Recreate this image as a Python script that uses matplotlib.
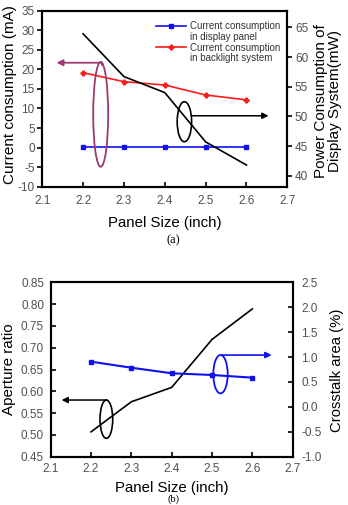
import matplotlib
matplotlib.use("Agg")
import matplotlib.pyplot as plt
from matplotlib.patches import Ellipse
from matplotlib.lines import Line2D
import numpy as np

plt.rcParams['font.family'] = ['Liberation Sans', 'DejaVu Sans']
plt.rcParams['axes.unicode_minus'] = False

# ---------------- data ----------------
panel_size = [2.2, 2.3, 2.4, 2.5, 2.6]

# (a)
current_display_panel = [0.1, 0.1, 0.1, 0.1, 0.1]          # mA (left axis)
current_backlight = [19.15, 16.85, 16.0, 13.45, 12.2]       # mA (left axis)
power_display_system = [63.9, 56.7, 54.0, 45.7, 41.8]      # mW (right axis)

# (b)
aperture_ratio = [0.507, 0.576, 0.609, 0.719, 0.789]        # left axis
crosstalk_area = [0.907, 0.786, 0.674, 0.640, 0.586]        # % (right axis)

x_ticks = [2.1, 2.2, 2.3, 2.4, 2.5, 2.6, 2.7]
a_left_ticks = [-10, -5, 0, 5, 10, 15, 20, 25, 30, 35]
a_right_ticks = [40, 45, 50, 55, 60, 65]
b_left_ticks = [0.45, 0.50, 0.55, 0.60, 0.65, 0.70, 0.75, 0.80, 0.85]
b_right_ticks = [-1.0, -0.5, 0.0, 0.5, 1.0, 1.5, 2.0, 2.5]

legend_labels = ["Current consumption", "in display panel",
                 "Current consumption", "in backlight system"]

# ---------------- styles ----------------
W, H = 348, 505
fig = plt.figure(figsize=(W / 100, H / 100), dpi=100)

TICK_COLOR = '#505050'
TICK_FS = 8.5
SPINE_LW = 1.5
BLUE = '#1010f0'
RED = '#ff1a1a'
MAGENTA = '#9b3a6e'


def px_axes(left, top, right, bottom):
    return [left / W, 1 - bottom / H, (right - left) / W, (bottom - top) / H]


def style_axes(ax, direction, pad_x, pad_y):
    for s in ax.spines.values():
        s.set_linewidth(SPINE_LW)
    ax.tick_params(axis='both', colors='black', labelcolor=TICK_COLOR,
                   labelsize=TICK_FS, width=1.2, length=3.5)
    ax.tick_params(axis='x', direction='in', pad=pad_x, top=False)
    ax.tick_params(axis='y', direction=direction, pad=pad_y)


# ======================= (a) =======================
ax = fig.add_axes(px_axes(42.3, 10.7, 287.3, 186.7))
ax2 = ax.twinx()

ax.plot(panel_size, current_display_panel, color=BLUE, lw=1.2,
        marker='s', ms=3.2, label='display')
ax.plot(panel_size, current_backlight, color=RED, lw=1.2,
        marker='P', ms=3.4, label='backlight')
ax2.plot(panel_size, power_display_system, color='black', lw=1.2)

ax.set_xlim(2.1, 2.7)
ax.set_ylim(-10, 35)
ax2.set_ylim(38.15, 67.8)
ax.set_xticks(x_ticks)
ax.set_xticklabels([f"{v:.1f}" for v in x_ticks])
ax.set_yticks(a_left_ticks)
ax2.set_yticks(a_right_ticks)

style_axes(ax, 'out', 6.0, 2)
style_axes(ax2, 'out', 6.0, 2)
ax2.tick_params(axis='x', bottom=False, top=False)

ax.set_xlabel('Panel Size (inch)', fontsize=10.8)
ax.xaxis.set_label_coords(0.5, -0.2045)
ax.xaxis.label.set_va('center')
ax.set_ylabel('Current consumption (mA)', fontsize=11)
ax.yaxis.set_label_coords(-0.132, 0.521)
ax.yaxis.label.set_va('center')
ax2.set_ylabel('Power Consumption of\nDisplay System(mW)', fontsize=11,
               linespacing=0.95)
ax2.yaxis.set_label_coords(1.166, 0.488)
ax2.yaxis.label.set_va('center')
ax2.yaxis.label.set_rotation(90)

# legend (4 rows: handle on first line of each entry)
blank = Line2D([], [], linestyle='none', marker=None)
h_blue = Line2D([], [], color=BLUE, lw=1.2, marker='s', ms=3.2)
h_red = Line2D([], [], color=RED, lw=1.2, marker='P', ms=3.4)
leg = ax.legend([h_blue, blank, h_red, blank], legend_labels,
                loc='upper left', bbox_to_anchor=((156 - 42.3) / 245, 1 - (21 - 10.7) / 176),
                frameon=False, fontsize=7, handlelength=3.1, handletextpad=0.4,
                labelspacing=0.08, borderpad=0, borderaxespad=0)
for t in leg.get_texts():
    t.set_color('#333333')

# annotations (a)
ax.add_patch(Ellipse((2.243, 8.5), 0.0367, 26.8, fill=False,
                     edgecolor=MAGENTA, lw=1.3, zorder=5))
ax.annotate('', xy=(2.135, 21.7), xytext=(2.247, 21.7),
            arrowprops=dict(arrowstyle='-|>', color=MAGENTA, lw=1.3,
                            mutation_scale=9, shrinkA=0, shrinkB=0))
ax.plot([2.247, 2.247], [21.7, 21.0], color=MAGENTA, lw=1.3)
ax2.add_patch(Ellipse((2.448, 49.1), 0.0353, 6.74, fill=False,
                      edgecolor='black', lw=1.2, zorder=5))
ax2.annotate('', xy=(2.654, 50.1), xytext=(2.466, 50.1),
             arrowprops=dict(arrowstyle='-|>', color='black', lw=1.1,
                             mutation_scale=9, shrinkA=0, shrinkB=0))

fig.text(173 / W, 1 - 240 / H, '(a)', family='Liberation Serif',
         fontsize=9, ha='center', va='center')

# ======================= (b) =======================
bx = fig.add_axes(px_axes(50.7, 282.3, 292.7, 456.7))
bx2 = bx.twinx()

bx.plot(panel_size, aperture_ratio, color='black', lw=1.2)
bx2.plot(panel_size, crosstalk_area, color=BLUE, lw=1.5,
         marker='s', ms=3.2)

bx.set_xlim(2.1, 2.7)
bx.set_ylim(0.45, 0.85)
bx2.set_ylim(-1.0, 2.5)
bx.set_xticks(x_ticks)
bx.set_xticklabels([f"{v:.1f}" for v in x_ticks])
bx.set_yticks(b_left_ticks)
bx.set_yticklabels([f"{v:.2f}" for v in b_left_ticks])
bx2.set_yticks(b_right_ticks)
bx2.set_yticklabels([f"{v:.1f}" for v in b_right_ticks])

style_axes(bx, 'in', 4.2, 4.8)
style_axes(bx2, 'in', 4.2, 6.2)
bx2.tick_params(axis='x', bottom=False, top=False)

bx.set_xlabel('Panel Size (inch)', fontsize=10.8)
bx.xaxis.set_label_coords(0.501, -0.18)
bx.xaxis.label.set_va('center')
bx.set_ylabel('Aperture ratio', fontsize=10.9)
bx.yaxis.set_label_coords(-0.172, 0.503)
bx.yaxis.label.set_va('center')
bx2.set_ylabel('Crosstalk area (%)', fontsize=10.7)
bx2.yaxis.set_label_coords(1.182, 0.497)
bx2.yaxis.label.set_va('center')
bx2.yaxis.label.set_rotation(90)

# annotations (b)
bx.add_patch(Ellipse((2.238, 0.536), 0.0315, 0.0878, fill=False,
                     edgecolor='black', lw=1.2, zorder=5))
bx.annotate('', xy=(2.127, 0.58), xytext=(2.239, 0.58),
            arrowprops=dict(arrowstyle='-|>', color='black', lw=1.1,
                            mutation_scale=9, shrinkA=0, shrinkB=0))
bx2.add_patch(Ellipse((2.521, 0.656), 0.0357, 0.769, fill=False,
                      edgecolor=BLUE, lw=1.3, zorder=5))
bx2.annotate('', xy=(2.648, 1.04), xytext=(2.524, 1.04),
             arrowprops=dict(arrowstyle='-|>', color=BLUE, lw=1.2,
                             mutation_scale=9, shrinkA=0, shrinkB=0))

fig.text(173 / W, 1 - 499.5 / H, '(b)', family='Liberation Serif',
         fontsize=7.5, ha='center', va='center')

fig.savefig('out.png', dpi=100)
